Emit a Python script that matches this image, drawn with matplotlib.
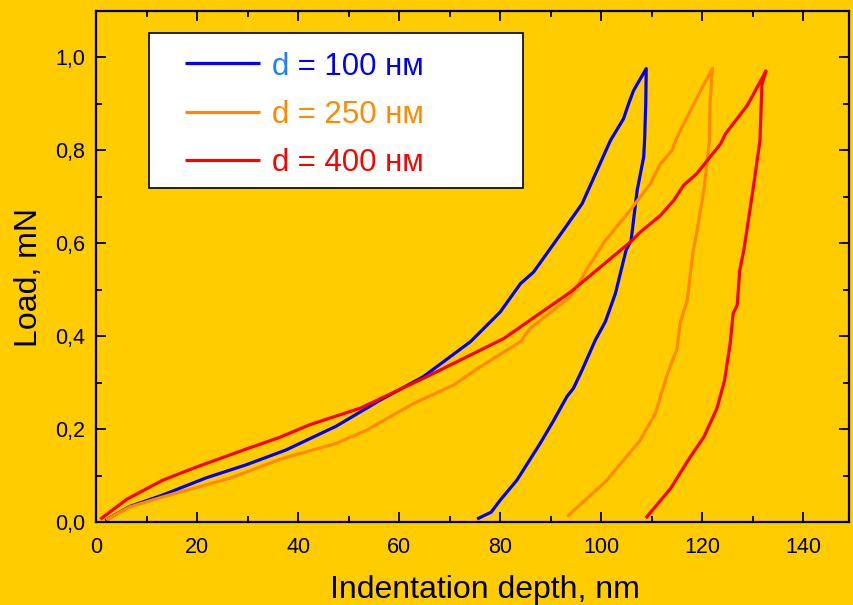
"""
Load vs. indentation depth curves (loading + unloading) for three film
thicknesses d = 100, 250 and 400 nm, on a yellow background.

Run: python plot.py   (writes out.png)
"""
import matplotlib
matplotlib.use("Agg")                    # headless backend (save, don't show)
import matplotlib.pyplot as plt
from matplotlib.patches import Rectangle
from matplotlib.ticker import MultipleLocator, FuncFormatter

# ---- Data ----------------------------------------------------------------
# Each curve is drawn as one path: loading up to the peak, then unloading.
depth_100 = [2.1, 6.6, 13.2, 21.8, 29.7, 37.6, 47.5, 56.2, 64.8, 74.1, 80.0,
             84.0, 86.6, 92.5, 96.2, 101.8, 104.4, 105.4, 106.4, 108.9,
             108.8, 108.6, 108.4, 107.1, 105.9, 104.9, 102.8, 100.8, 98.8,
             96.2, 94.5, 93.2, 90.6, 87.9, 83.3, 80.0, 78.2, 75.7]
load_100 = [0.005, 0.033, 0.058, 0.095, 0.123, 0.155, 0.206, 0.262, 0.313,
            0.388, 0.452, 0.513, 0.538, 0.628, 0.685, 0.821, 0.868, 0.900,
            0.929, 0.976,
            0.900, 0.830, 0.786, 0.714, 0.606, 0.585, 0.492, 0.431, 0.391,
            0.327, 0.288, 0.270, 0.219, 0.169, 0.090, 0.047, 0.021, 0.008]

depth_250 = [2.3, 6.6, 13.2, 26.4, 37.0, 47.5, 53.6, 62.8, 70.8, 76.0, 84.0,
             85.9, 93.9, 97.5, 100.8, 105.7, 109.7, 111.7, 114.0, 114.7,
             118.3, 122.0,
             121.5, 121.4, 120.3, 118.6, 118.2, 117.0, 115.6, 115.0, 113.0,
             110.7, 107.7, 101.1, 93.5]
load_250 = [0.006, 0.032, 0.054, 0.094, 0.137, 0.169, 0.198, 0.255, 0.295,
            0.334, 0.388, 0.417, 0.485, 0.550, 0.606, 0.671, 0.728, 0.771,
            0.800, 0.822, 0.900, 0.977,
            0.900, 0.820, 0.714, 0.606, 0.585, 0.477, 0.428, 0.374, 0.316,
            0.234, 0.176, 0.090, 0.014]

depth_400 = [1.1, 6.1, 13.2, 19.8, 29.7, 36.3, 42.2, 47.5, 52.3, 65.5, 80.7,
             93.9, 106.1, 107.7, 111.7, 114.3, 116.3, 118.9, 123.6, 124.6,
             128.9, 132.6,
             131.8, 131.4, 130.0, 128.5, 128.2, 127.4, 126.9, 126.1, 125.5,
             124.4, 122.9, 120.3, 117.6, 113.7, 109.0]
load_400 = [0.008, 0.049, 0.090, 0.118, 0.157, 0.182, 0.209, 0.228, 0.245,
            0.313, 0.395, 0.495, 0.606, 0.624, 0.660, 0.692, 0.725, 0.750,
            0.814, 0.836, 0.897, 0.971,
            0.943, 0.821, 0.714, 0.606, 0.585, 0.542, 0.467, 0.449, 0.384,
            0.305, 0.245, 0.183, 0.140, 0.072, 0.011]

thickness = ["100", "250", "400"]        # legend: d = ... нм
colors = ["#0000FF", "#FF8A00", "#FF0000"]
d_colors = ["#1E80FF", "#FF8A00", "#FF0000"]   # the "d" of the first row is lighter

BG = "#FFCC00"                           # yellow page / plot background


def draw_legend(ax):
    """Hand-made legend box (the original has a wide, uneven padding)."""
    box = Rectangle((0.0704, 0.6536), 0.4967, 0.3034, transform=ax.transAxes,
                    facecolor="white", edgecolor="black", lw=1.2, zorder=5)
    ax.add_patch(box)
    rows_y = [0.898, 0.803, 0.709]
    for y, t, c, dc in zip(rows_y, thickness, colors, d_colors):
        ax.plot([0.1182, 0.2178], [y, y], transform=ax.transAxes, color=c,
                lw=2.3, zorder=6, solid_capstyle="butt")
        d = ax.text(0.2337, y, "d", transform=ax.transAxes, color=dc,
                    fontsize=22.5, va="center_baseline", zorder=6)
        ax.annotate(f" = {t} нм", xy=(1, 0), xycoords=d, va="bottom",
                    color=c, fontsize=22.5, zorder=6)


def main():
    plt.rcParams["font.family"] = ["Liberation Sans", "DejaVu Sans"]

    fig = plt.figure(figsize=(8.54, 6.05), dpi=100, facecolor=BG)
    ax = fig.add_axes([0.1124, 0.1372, 0.8816, 0.8446], facecolor=BG)

    curves = [(depth_100, load_100), (depth_250, load_250), (depth_400, load_400)]
    for (x, y), c in zip(curves, colors):
        ax.plot(x, y, color=c, lw=2.3, solid_joinstyle="round")

    ax.set_xlim(0, 149)
    ax.set_ylim(0, 1.1)

    # ticks: inward, on all four sides, majors every 20 nm / 0.2 mN
    ax.xaxis.set_major_locator(MultipleLocator(20))
    ax.xaxis.set_minor_locator(MultipleLocator(10))
    ax.yaxis.set_major_locator(MultipleLocator(0.2))
    ax.yaxis.set_minor_locator(MultipleLocator(0.1))
    ax.yaxis.set_major_formatter(
        FuncFormatter(lambda v, _: f"{v:.1f}".replace(".", ",")))
    ax.tick_params(which="both", direction="in", top=True, right=True,
                   width=1.3, labelsize=15.5)
    ax.tick_params(axis="x", pad=11)
    ax.tick_params(axis="y", pad=8)
    ax.tick_params(which="major", length=7.5)
    ax.tick_params(which="minor", length=4)
    for s in ax.spines.values():
        s.set_linewidth(1.6)

    ax.set_xlabel("Indentation depth, nm", fontsize=23, labelpad=12)
    ax.set_ylabel("Load, mN", fontsize=23, labelpad=8)
    # the original labels sit a little off the axis centre
    ax.xaxis.label.set_x(0.5166)
    ax.yaxis.label.set_y(0.479)

    draw_legend(ax)

    fig.savefig("out.png", dpi=100, facecolor=BG)
    plt.close(fig)


if __name__ == "__main__":
    main()
